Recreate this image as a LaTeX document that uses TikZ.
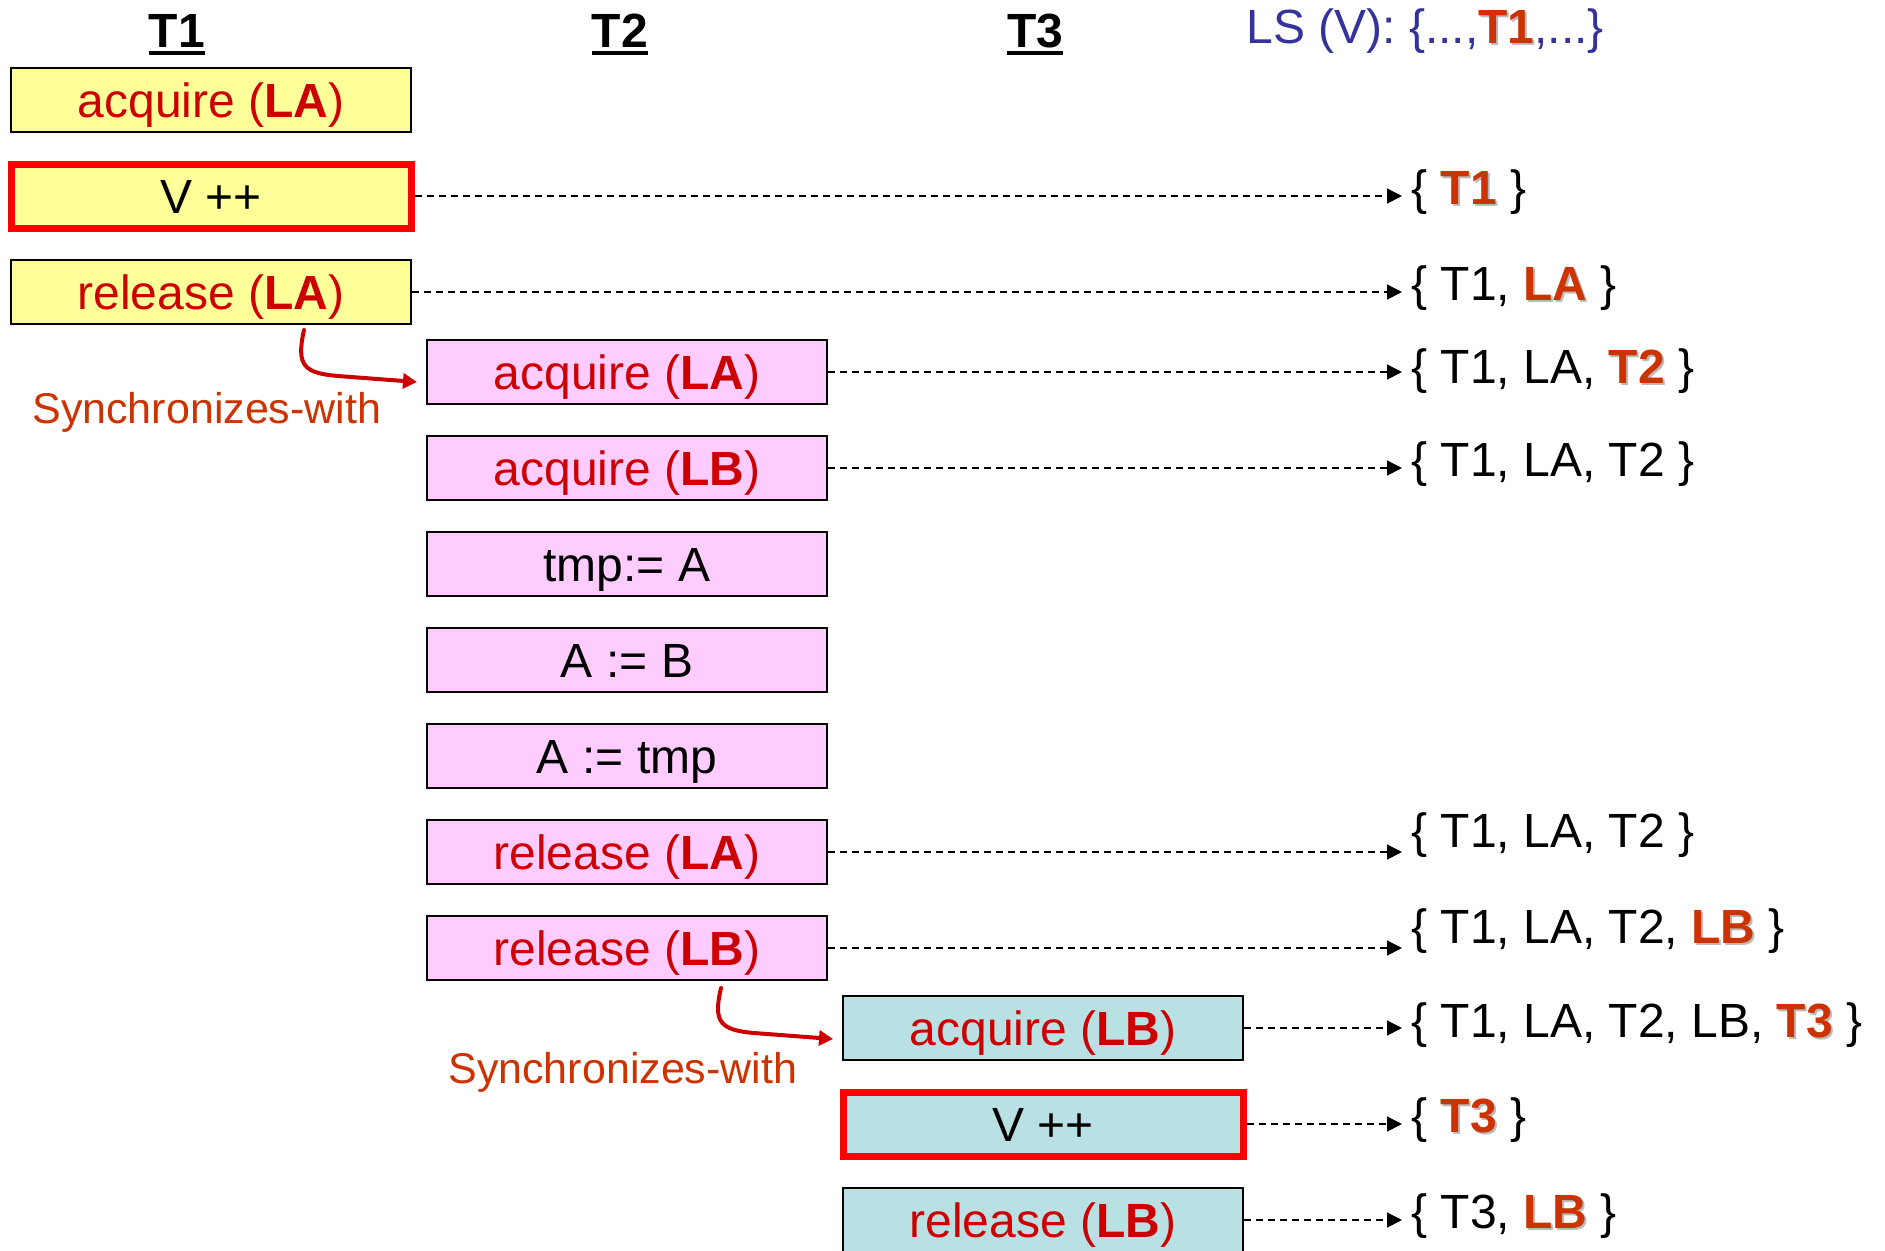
\documentclass[tikz,border=0pt]{standalone}
\usepackage{fontspec}
\setmainfont{Liberation Sans}
\usetikzlibrary{arrows.meta}

\definecolor{yellowbox}{HTML}{FFFF99}
\definecolor{pinkbox}{HTML}{FFCCFF}
\definecolor{tealbox}{HTML}{B9E0E3}
\definecolor{oprred}{HTML}{CC0000}
\definecolor{newred}{HTML}{CC3300}
\definecolor{lsblue}{HTML}{333399}
\definecolor{shade}{HTML}{BBBBBB}

% newly added lockset element: bold, orange-red, with a soft drop shadow
\newcommand{\added}[1]{{\bfseries\rlap{\kern1pt\raisebox{-1pt}{\textcolor{shade}{#1}}}\textcolor{newred}{#1}}}
\newcommand{\bigtext}{\fontsize{24}{29}\selectfont}

\begin{document}
\begin{tikzpicture}[x=0.5pt,y=-0.5pt,
  opbox/.style={draw=black,line width=0.8pt,minimum width=200pt,minimum height=32pt,
    inner sep=0pt,text=oprred,font=\bigtext,text height=17.2pt,text depth=0pt},
  t1box/.style={opbox,fill=yellowbox},
  t2box/.style={opbox,fill=pinkbox},
  t3box/.style={opbox,fill=tealbox},
  access/.style={draw=red,line width=3.5pt,text=black},
  thread/.style={anchor=base,inner sep=0pt,font=\bigtext\bfseries},
  lsset/.style={anchor=base west,inner sep=0pt,font=\bigtext,text=black},
  lsarrow/.style={line width=0.75pt,dash pattern=on 3.5pt off 2.5pt,
    -{Triangle[length=7.5pt,width=7.5pt]}},
  syncarrow/.style={draw=oprred,line width=2pt,line cap=round,
    -{Triangle[length=7pt,width=7.5pt]}},
  synclabel/.style={anchor=base west,inner sep=0pt,text=newred,
    font=\fontsize{21.5}{26}\selectfont}]

\fill[white] (0,0) rectangle (1885,1250);
\useasboundingbox (0,0) rectangle (1885,1250);

% thread headers
\node[thread] (h1) at (177,47) {T1};
\node[thread] (h2) at (620,47) {T2};
\node[thread] (h3) at (1035,47) {T3};
\foreach \h in {h1,h2,h3}
  \draw[line width=2pt] ([yshift=-3pt]\h.base west) -- ([yshift=-3pt]\h.base east);
\node[anchor=base west,inner sep=0pt,font=\bigtext,text=lsblue] (lshead) at (1246,43)
  {LS (V): \{...,\added{T1},...\}};

% thread T1
\node[t1box] (t1acq)  at (211,100) {acquire (\textbf{LA})};
\node[t1box,access] (t1inc) at (211,196) {V ++};
\node[t1box] (t1rel)  at (211,292) {release (\textbf{LA})};

% thread T2
\node[t2box] (t2acqA) at (627,372) {acquire (\textbf{LA})};
\node[t2box] (t2acqB) at (627,468) {acquire (\textbf{LB})};
\node[t2box,text=black] (t2s1) at (627,564) {tmp:= A};
\node[t2box,text=black] (t2s2) at (627,660) {A := B};
\node[t2box,text=black] (t2s3) at (627,756) {A := tmp};
\node[t2box] (t2relA) at (627,852) {release (\textbf{LA})};
\node[t2box] (t2relB) at (627,948) {release (\textbf{LB})};

% thread T3
\node[t3box] (t3acq)  at (1043,1028) {acquire (\textbf{LB})};
\node[t3box,access] (t3inc) at (1043,1124) {V ++};
\node[t3box] (t3rel)  at (1043,1220) {release (\textbf{LB})};

% lockset of V after each step
\coordinate (tipx) at (1402,0);
\node[lsset] (ls1) at (1411,204)  {\{ \added{T1} \}};
\node[lsset] (ls2) at (1411,300)  {\{ T1, \added{LA} \}};
\node[lsset] (ls3) at (1411,383)  {\{ T1, LA, \added{T2} \}};
\node[lsset] (ls4) at (1411,476)  {\{ T1, LA, T2 \}};
\node[lsset] (ls5) at (1411,847)  {\{ T1, LA, T2 \}};
\node[lsset] (ls6) at (1411,943)  {\{ T1, LA, T2, \added{LB} \}};
\node[lsset] (ls7) at (1411,1037) {\{ T1, LA, T2, LB, \added{T3} \}};
\node[lsset] (ls8) at (1411,1132) {\{ \added{T3} \}};
\node[lsset] (ls9) at (1411,1228) {\{ T3, \added{LB} \}};

\foreach \n in {t1inc,t1rel,t2acqA,t2acqB,t2relA,t2relB,t3acq,t3inc,t3rel}
  \draw[lsarrow] (\n.east) -- (\n.east -| tipx);

% synchronizes-with edges
\coordinate (sw1a) at (304,330);
\coordinate (sw1b) at (417,382);
\draw[syncarrow] (sw1a) .. controls (296,366) and (304,373) .. (338,376) -- (sw1b);
\node[synclabel] (sw1) at (32,423) {Synchronizes-with};

\coordinate (sw2a) at (721,988);
\coordinate (sw2b) at (833,1039);
\draw[syncarrow] (sw2a) .. controls (713,1022) and (720,1030) .. (754,1033) -- (sw2b);
\node[synclabel] (sw2) at (448,1083) {Synchronizes-with};
\end{tikzpicture}
\end{document}
